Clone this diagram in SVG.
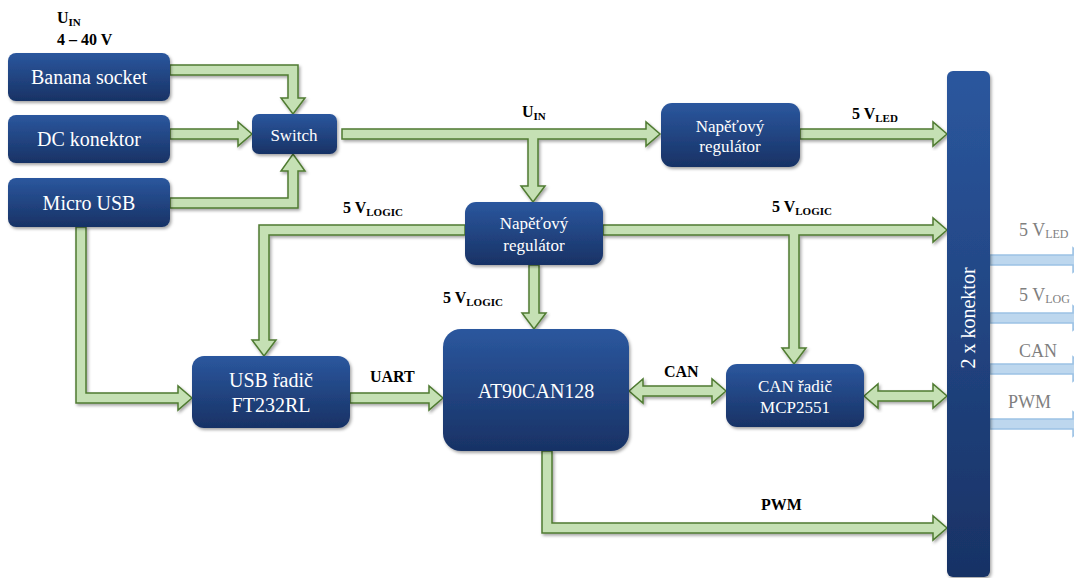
<svg xmlns="http://www.w3.org/2000/svg" width="1074" height="578" viewBox="0 0 1074 578">
<defs>
<linearGradient id="nodeGrad" x1="0" y1="0" x2="0" y2="1">
<stop offset="0" stop-color="#2b579e"/>
<stop offset="1" stop-color="#183265"/>
</linearGradient>
<filter id="shadow" x="-10%" y="-10%" width="130%" height="130%">
<feDropShadow dx="1.5" dy="2" stdDeviation="1.5" flood-color="#000" flood-opacity="0.35"/>
</filter>
</defs>
<style>
.node rect{fill:url(#nodeGrad);filter:url(#shadow)}
.nt{font-family:"Liberation Serif",serif;fill:#fff;text-anchor:middle}
.lbl{font-family:"Liberation Serif",serif;font-weight:bold;font-size:16px;fill:#000}
.sub{font-size:11px}
.g{fill:#c5e0b4;stroke:#4f7b31;stroke-width:1.5;stroke-linejoin:miter;filter:url(#shadow)}
.b{fill:#bdd7ee;stroke:#9cc2e5;stroke-width:1.5}
.gl{font-family:"Liberation Serif",serif;font-size:18px;fill:#7f7f7f}
.gsub{font-size:12px}
</style>

<g id="connectors">
<!-- Banana -> Switch -->
<polygon class="g" points="170,65 298,65 298,98 305,98 293,114 281,98 288,98 288,75 170,75"/>
<!-- DC -> Switch -->
<polygon class="g" points="170,129 238,129 238,122 252,134 238,146 238,139 170,139"/>
<!-- Micro USB -> Switch -->
<polygon class="g" points="170,208 298,208 298,171 305,171 293,154 281,171 288,171 288,198 170,198"/>
<!-- Switch -> top regulator with branch to middle regulator -->
<polygon class="g" points="342,129 646,129 646,122 660,134 646,146 646,139 538,139 538,186 545,186 533,202 521,186 528,186 528,139 342,139"/>
<!-- top regulator -> connector -->
<polygon class="g" points="800,129 933,129 933,122 947,134 933,146 933,139 800,139"/>
<!-- mid regulator -> USB radic -->
<polygon class="g" points="465,225 259,225 259,340 252,340 264,356 276,340 269,340 269,235 465,235"/>
<!-- mid regulator -> connector with branch to CAN radic -->
<polygon class="g" points="603,225 933,225 933,218 947,230 933,242 933,235 799,235 799,348 806,348 794,364 782,348 789,348 789,235 603,235"/>
<!-- mid regulator -> AT90 -->
<polygon class="g" points="529,265 539,265 539,313 546,313 534,329 522,313 529,313"/>
<!-- Micro USB -> USB radic -->
<polygon class="g" points="76,227 86,227 86,393 178,393 178,386 192,398 178,410 178,403 76,403"/>
<!-- USB radic -> AT90 -->
<polygon class="g" points="350,393 429,393 429,386 443,398 429,410 429,403 350,403"/>
<!-- AT90 <-> CAN radic -->
<polygon class="g" points="629,391 643,379 643,386 712,386 712,379 726,391 712,403 712,396 643,396 643,403"/>
<!-- CAN radic <-> connector -->
<polygon class="g" points="864,396 878,384 878,391 933,391 933,384 947,396 933,408 933,401 878,401 878,408"/>
<!-- AT90 -> connector (PWM) -->
<polygon class="g" points="542,451 552,451 552,523 933,523 933,516 947,528 933,540 933,533 542,533"/>
<!-- outputs -->
<polygon class="b" points="990,255 1073,255 1073,248 1087,260 1073,272 1073,265 990,265"/>
<polygon class="b" points="990,313 1073,313 1073,306 1087,318 1073,330 1073,323 990,323"/>
<polygon class="b" points="990,364 1073,364 1073,357 1087,369 1073,381 1073,374 990,374"/>
<polygon class="b" points="990,419 1073,419 1073,412 1087,424 1073,436 1073,429 990,429"/>
</g>

<g id="labels">
<text class="lbl" x="57" y="23">U<tspan class="sub" dy="3">IN</tspan></text>
<text class="lbl" x="57" y="45">4 – 40 V</text>
<text class="lbl" x="522" y="117">U<tspan class="sub" dy="3">IN</tspan></text>
<text class="lbl" x="852" y="119">5 V<tspan class="sub" dy="3">LED</tspan></text>
<text class="lbl" x="343" y="213">5 V<tspan class="sub" dy="3">LOGIC</tspan></text>
<text class="lbl" x="772" y="212">5 V<tspan class="sub" dy="3">LOGIC</tspan></text>
<text class="lbl" x="443" y="303">5 V<tspan class="sub" dy="3">LOGIC</tspan></text>
<text class="lbl" x="370" y="382">UART</text>
<text class="lbl" x="664" y="377">CAN</text>
<text class="lbl" x="761" y="510">PWM</text>
<text class="gl" x="1019" y="236">5 V<tspan class="gsub" dy="2">LED</tspan></text>
<text class="gl" x="1019" y="301">5 V<tspan class="gsub" dy="2">LOG</tspan></text>
<text class="gl" x="1019" y="357">CAN</text>
<text class="gl" x="1008" y="408">PWM</text>
</g>

<g id="banana" class="node"><rect x="8" y="53" width="162" height="48" rx="8"/><text class="nt" x="89" y="84" font-size="20">Banana socket</text></g>
<g id="dc" class="node"><rect x="8" y="115" width="162" height="48" rx="8"/><text class="nt" x="89" y="146" font-size="20">DC konektor</text></g>
<g id="microusb" class="node"><rect x="8" y="178" width="162" height="49" rx="8"/><text class="nt" x="89" y="210" font-size="20">Micro USB</text></g>
<g id="switch" class="node"><rect x="252" y="114" width="85" height="40" rx="7"/><text class="nt" x="294" y="141" font-size="17">Switch</text></g>
<g id="reg1" class="node"><rect x="661" y="103" width="139" height="64" rx="11"/><text class="nt" x="730" y="132" font-size="17">Napěťový</text><text class="nt" x="730" y="152" font-size="17">regulátor</text></g>
<g id="reg2" class="node"><rect x="465" y="202" width="138" height="63" rx="11"/><text class="nt" x="534" y="229" font-size="17">Napěťový</text><text class="nt" x="534" y="251" font-size="17">regulátor</text></g>
<g id="usbradic" class="node"><rect x="192" y="356" width="158" height="72" rx="12"/><text class="nt" x="271" y="387" font-size="20">USB řadič</text><text class="nt" x="271" y="412" font-size="20">FT232RL</text></g>
<g id="at90" class="node"><rect x="443" y="329" width="186" height="122" rx="18"/><text class="nt" x="536" y="398" font-size="20">AT90CAN128</text></g>
<g id="canradic" class="node"><rect x="726" y="364" width="138" height="63" rx="11"/><text class="nt" x="795" y="392" font-size="17">CAN řadič</text><text class="nt" x="795" y="413" font-size="17">MCP2551</text></g>
<g id="konektor" class="node"><rect x="947" y="71" width="43" height="506" rx="6"/><text class="nt" x="0" y="0" font-size="20" transform="translate(975,318) rotate(-90)">2 x konektor</text></g>
</svg>
